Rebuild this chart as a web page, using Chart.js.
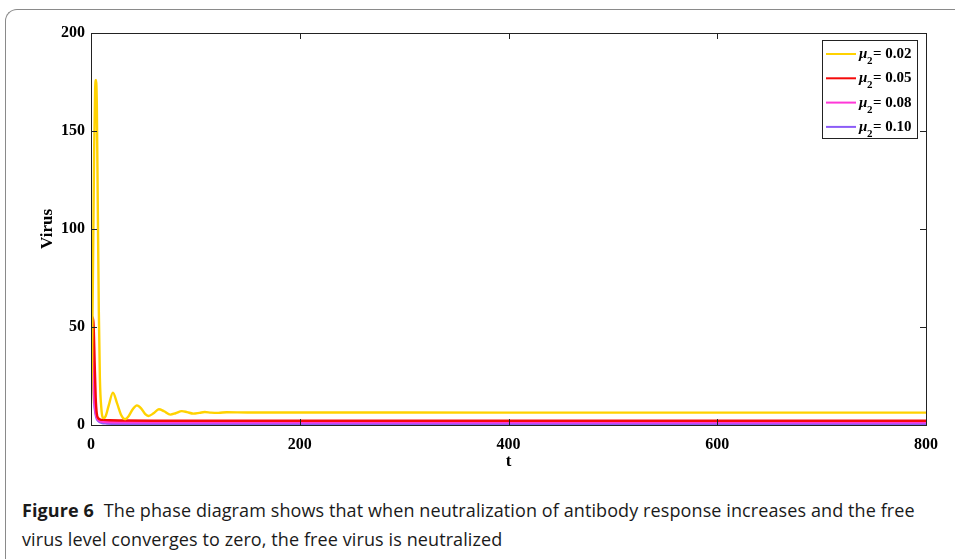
<!DOCTYPE html>
<html>
<head>
<meta charset="utf-8">
<script src="https://cdn.jsdelivr.net/npm/chart.js@4.4.1/dist/chart.umd.min.js"></script>
<style>
  body { margin: 0; background: #fff; width: 955px; height: 559px; overflow: hidden; position: relative; }
  .frame {
    position: absolute; left: 5px; top: 9px; width: 980px; height: 600px;
    border-top: 1.5px solid #8a8a8a; border-left: 1.5px solid #8a8a8a;
    border-top-left-radius: 12px;
  }
  .plot { position: absolute; left: 0; top: 0; width: 955px; height: 476px; }
  .caption {
    position: absolute; left: 22px; top: 496px; width: 940px; white-space: nowrap;
    font-family: "Open Sans", sans-serif; font-size: 18px; line-height: 29px; color: #1a1a1a;
    letter-spacing: 0.1px;
  }
  .caption b { margin-right: 5px; }
</style>
</head>
<body>
<div class="frame"></div>
<div class="plot"><canvas id="virusChart" width="955" height="476"></canvas></div>
<div class="caption"><b>Figure 6</b> The phase diagram shows that when neutralization of antibody response increases and the free<br>virus level converges to zero, the free virus is neutralized</div>
<script>
// mu2 = 0.02
const tYellow = [0, 1, 2, 3, 4, 4.8, 5.6, 6.5, 7.5, 8.5, 10, 12, 14, 17, 21, 25, 29, 32.5, 36, 40, 44, 48, 52, 55, 60, 65, 70, 76, 81, 87, 92, 98, 104, 109, 115, 122, 130, 150, 200, 400, 600, 800];
const vYellow = [11, 35, 85, 140, 172, 176, 163, 112, 58, 24, 8, 3.5, 4.5, 10, 16.5, 11, 5, 3, 4.5, 8, 10, 8.5, 5.5, 4.6, 6, 8, 7, 5.3, 6, 7.1, 6.6, 5.8, 6.2, 6.6, 6.3, 6.2, 6.5, 6.4, 6.4, 6.3, 6.3, 6.3];
// mu2 = 0.05
const tRed = [0, 1, 1.8, 2.6, 3.5, 4.5, 5.5, 7, 9, 12, 18, 30, 60, 200, 800];
const vRed = [46, 53, 55, 50, 32, 14, 6, 3.5, 2.8, 2.6, 2.4, 2.3, 2.2, 2.2, 2.2];
// mu2 = 0.08
const tMagenta = [0, 0.8, 1.6, 2.5, 3.5, 5, 7, 10, 15, 30, 200, 800];
const vMagenta = [44, 47.5, 38, 22, 11, 5, 2.6, 1.8, 1.5, 1.4, 1.4, 1.4];
// mu2 = 0.10
const tPurple = [0, 0.8, 1.6, 2.5, 3.5, 5, 7, 10, 15, 30, 200, 800];
const vPurple = [40, 42, 30, 17, 9, 4, 2, 1.1, 0.8, 0.6, 0.5, 0.5];

const xTicks = [0, 200, 400, 600, 800];
const yTicks = [0, 50, 100, 150, 200];
const muLabels = ['0.02', '0.05', '0.08', '0.10'];
const colors = ['#ffd200', '#f50a0a', '#ff38d8', '#8c5cf7'];

const toPoints = (ts, vs) => ts.map((t, i) => ({ x: t, y: vs[i] }));
const series = [
  toPoints(tYellow, vYellow),
  toPoints(tRed, vRed),
  toPoints(tMagenta, vMagenta),
  toPoints(tPurple, vPurple)
];

const serif = '"Liberation Serif", "Times New Roman", serif';

// box around the plot, ticks pointing inward on every side, and the legend
const boxPlugin = {
  id: 'boxPlugin',
  afterDraw(chart) {
    const { ctx, chartArea: a, scales } = chart;
    ctx.save();
    ctx.strokeStyle = '#222';
    ctx.lineWidth = 1;
    ctx.strokeRect(a.left + 0.5, a.top + 0.5, a.right - a.left, a.bottom - a.top);
    ctx.beginPath();
    xTicks.forEach(v => {
      const px = Math.round(scales.x.getPixelForValue(v)) + 0.5;
      ctx.moveTo(px, a.bottom); ctx.lineTo(px, a.bottom - 6);
      ctx.moveTo(px, a.top); ctx.lineTo(px, a.top + 6);
    });
    yTicks.forEach(v => {
      const py = Math.round(scales.y.getPixelForValue(v)) + 0.5;
      ctx.moveTo(a.left, py); ctx.lineTo(a.left + 6, py);
      ctx.moveTo(a.right, py); ctx.lineTo(a.right - 6, py);
    });
    ctx.stroke();

    // legend
    const lx = a.right - 104, ly = a.top + 7, lw = 95, lh = 98;
    ctx.fillStyle = '#fff';
    ctx.fillRect(lx, ly, lw, lh);
    ctx.strokeStyle = '#222';
    ctx.strokeRect(lx + 0.5, ly + 0.5, lw, lh);
    muLabels.forEach((m, i) => {
      const y = ly + 14 + i * 24.3;
      ctx.strokeStyle = colors[i];
      ctx.lineWidth = 2;
      ctx.beginPath();
      ctx.moveTo(lx + 4, y); ctx.lineTo(lx + 34, y);
      ctx.stroke();
      ctx.fillStyle = '#000';
      ctx.textBaseline = 'alphabetic';
      ctx.font = 'italic bold 15px ' + serif;
      ctx.fillText('\u03bc', lx + 37, y + 4);
      ctx.font = 'bold 11px ' + serif;
      ctx.fillText('2', lx + 45, y + 10);
      ctx.font = 'bold 15px ' + serif;
      ctx.fillText('= ' + m, lx + 51, y + 4);
    });
    ctx.restore();
  }
};

const ctx = document.getElementById('virusChart').getContext('2d');

new Chart(ctx, {
  type: 'line',
  data: {
    datasets: series.map((pts, i) => ({
      label: '\u03bc2 = ' + muLabels[i],
      data: pts,
      borderColor: colors[i],
      borderWidth: 2.4,
      pointRadius: 0,
      fill: false,
      cubicInterpolationMode: 'monotone'
    }))
  },
  options: {
    responsive: false,
    animation: false,
    layout: { padding: { left: 0, top: 33, right: 29, bottom: 0 } },
    plugins: {
      legend: { display: false },
      tooltip: { enabled: false }
    },
    scales: {
      x: {
        type: 'linear',
        min: 0,
        max: 800,
        afterFit(scale) { scale.height = 51; },
        afterBuildTicks(scale) { scale.ticks = xTicks.map(v => ({ value: v })); },
        grid: { display: false },
        border: { display: false },
        ticks: { color: '#000', padding: 2, font: { family: serif, size: 16, weight: 'bold' } },
        title: { display: true, text: 't', color: '#000', padding: { top: 0 }, font: { family: serif, size: 17, weight: 'bold' } }
      },
      y: {
        min: 0,
        max: 200,
        afterFit(scale) { scale.width = 91; },
        afterBuildTicks(scale) { scale.ticks = yTicks.map(v => ({ value: v })); },
        grid: { display: false, tickLength: 0 },
        border: { display: false },
        ticks: { color: '#000', padding: 6, font: { family: serif, size: 16, weight: 'bold' } },
        title: { display: true, text: 'Virus', color: '#000', padding: { top: 37, bottom: 0 }, font: { family: serif, size: 17, weight: 'bold' } }
      }
    }
  },
  plugins: [boxPlugin]
});
</script>
</body>
</html>
